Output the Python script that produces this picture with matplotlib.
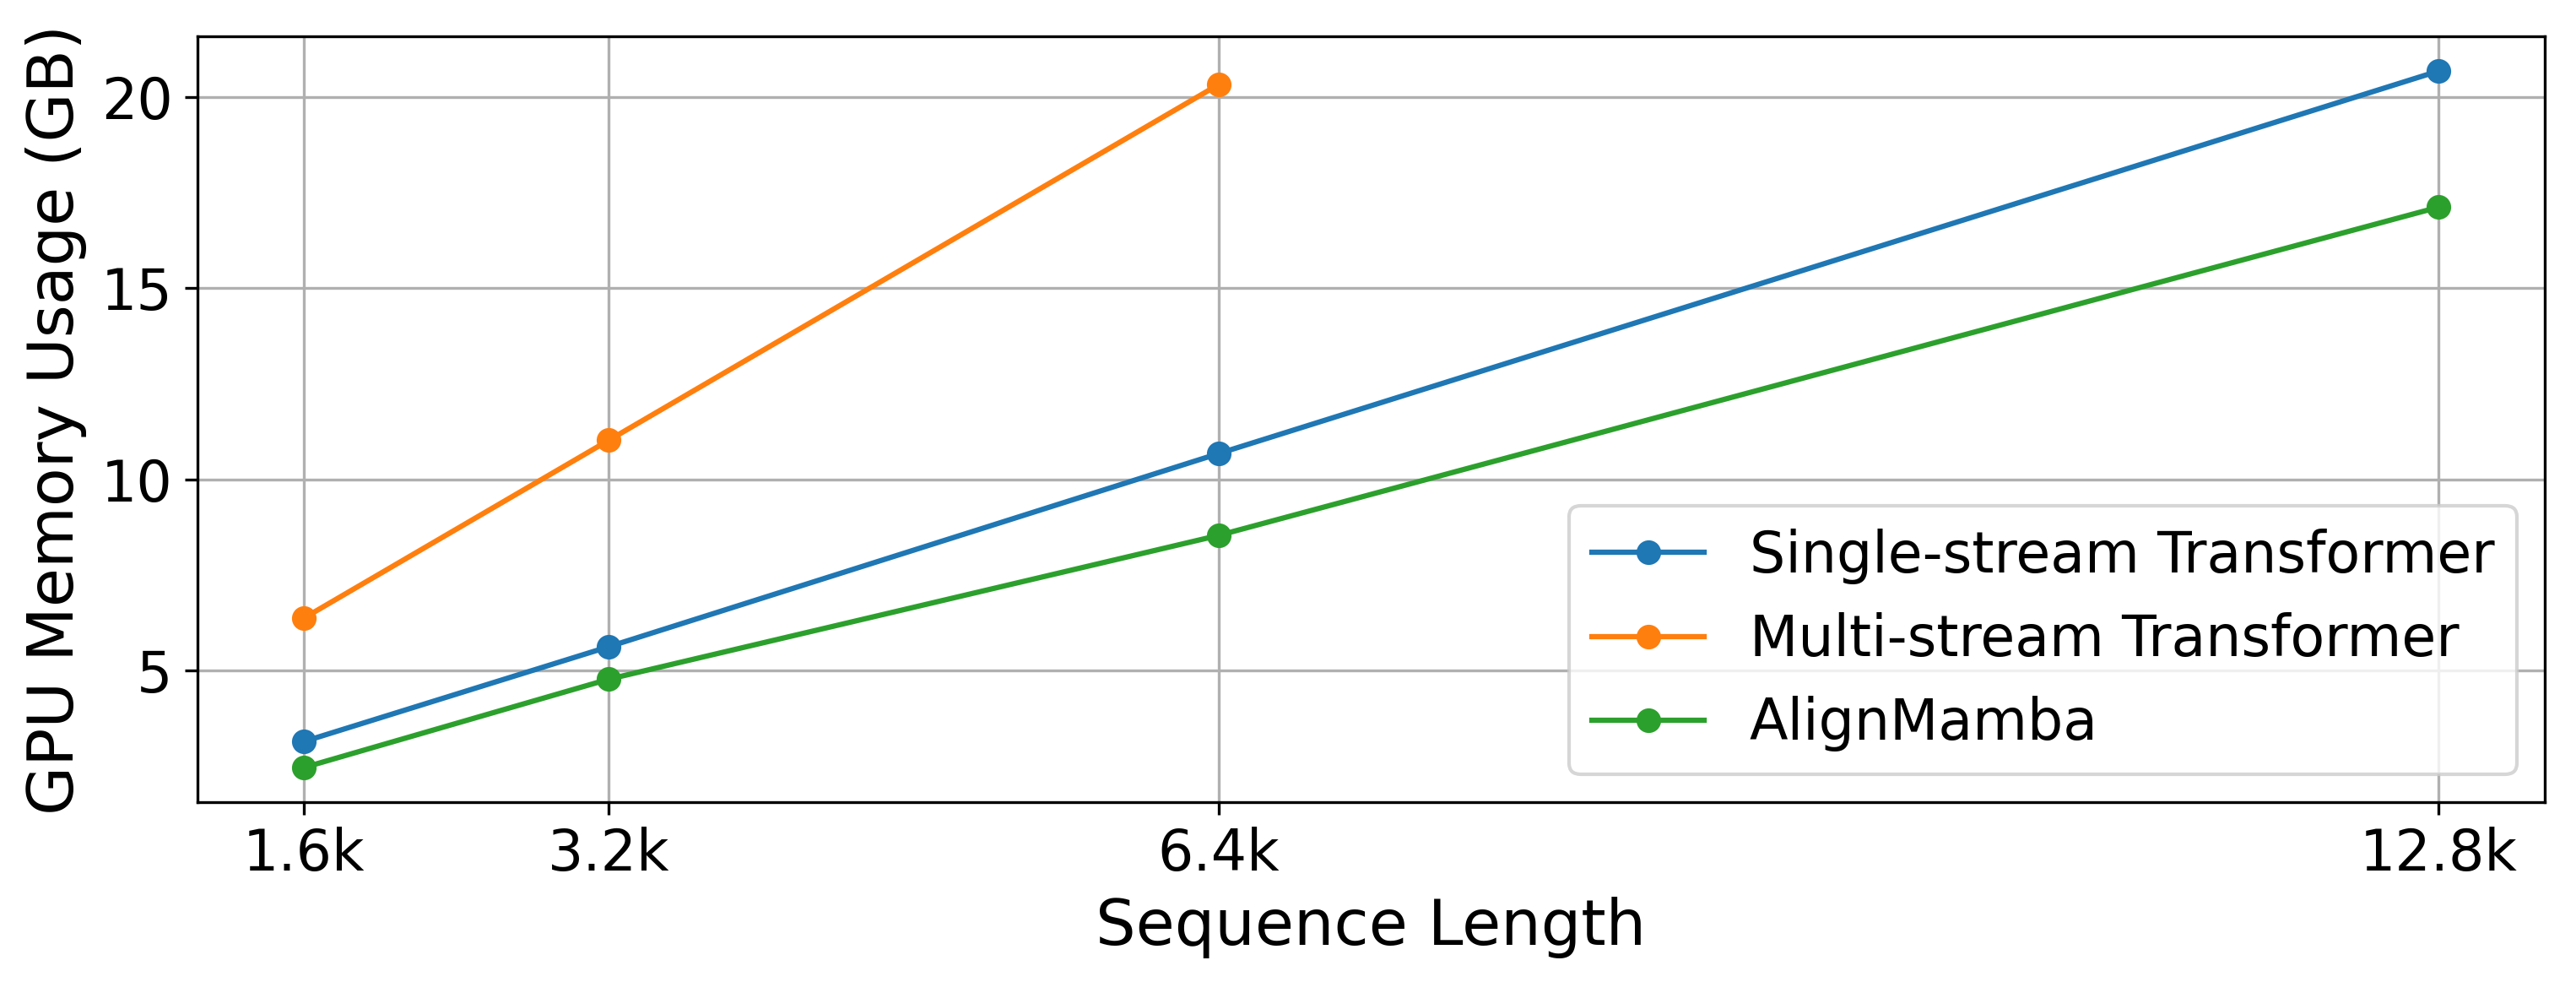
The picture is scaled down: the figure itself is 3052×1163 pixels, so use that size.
import matplotlib
matplotlib.use("Agg")
import matplotlib.pyplot as plt

# Sequence lengths (tokens) and GPU memory (GB)
seq_len = [1600, 3200, 6400, 12800]
seq_labels = ["1.6k", "3.2k", "6.4k", "12.8k"]

single_stream = [3.15, 5.63, 10.68, 20.68]
multi_stream = [6.38, 11.03, 20.33]   # OOM beyond 6.4k
align_mamba = [2.47, 4.78, 8.54, 17.12]

fig, ax = plt.subplots(figsize=(3053 / 300, 1163 / 300), dpi=300)

ax.plot(seq_len, single_stream, marker="o", label="Single-stream Transformer")
ax.plot(seq_len[:len(multi_stream)], multi_stream, marker="o", label="Multi-stream Transformer")
ax.plot(seq_len, align_mamba, marker="o", label="AlignMamba")

ax.set_xticks(seq_len)
ax.set_xticklabels(seq_labels)
ax.tick_params(labelsize=16)
ax.set_xlabel("Sequence Length", fontsize=18)
ax.set_ylabel("GPU Memory Usage (GB)", fontsize=18)
ax.grid(True)
ax.legend(loc="lower right", fontsize=16)

fig.subplots_adjust(left=0.0766, right=0.9876, top=0.963, bottom=0.183)
fig.savefig("out.png", dpi=300)
